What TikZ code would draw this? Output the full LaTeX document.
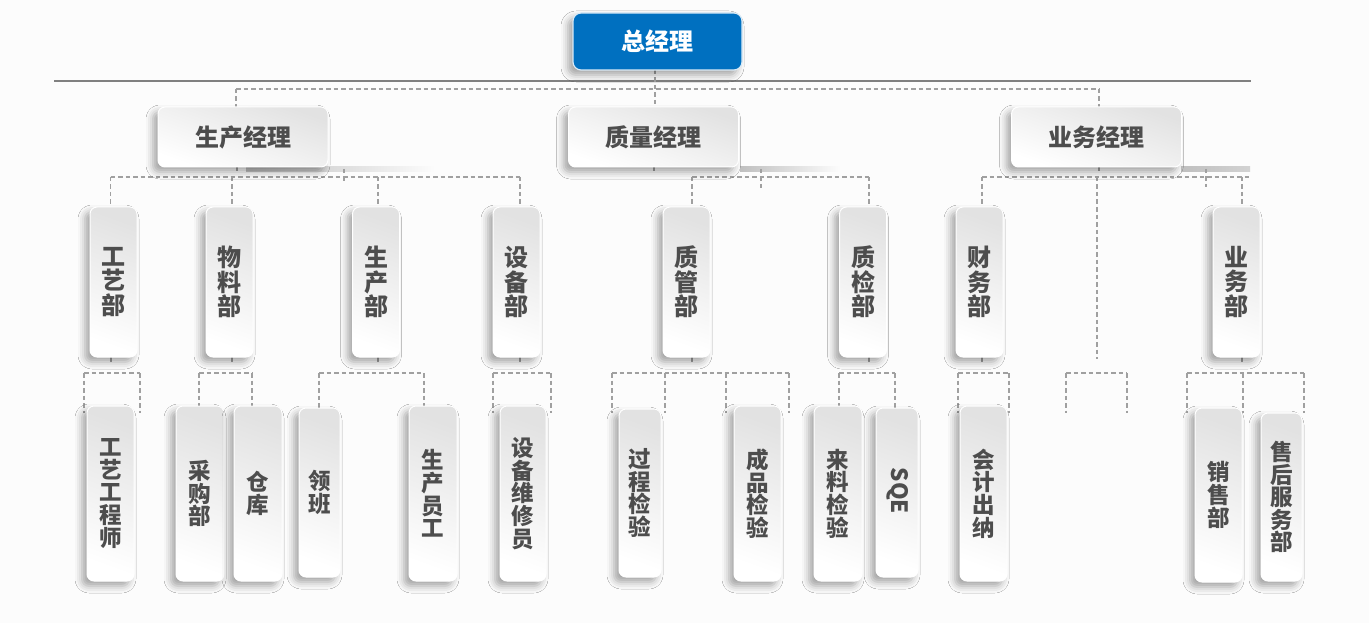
\documentclass[tikz,border=0pt]{standalone}
\usepackage{fontspec}
\setmainfont{Noto Sans CJK SC}
\usetikzlibrary{shadows.blur}
\definecolor{bg}{HTML}{FCFCFC}
\definecolor{blueb}{HTML}{0070C0}
\definecolor{txt}{HTML}{4D4D4D}
\definecolor{dlc}{HTML}{A0A0A0}
\definecolor{boxtop}{HTML}{E2E2E2}
\definecolor{rulec}{HTML}{808080}
\begin{document}
\begin{tikzpicture}[x=1pt,y=-1pt,
  dl/.style={draw=dlc, line width=1.3pt, dash pattern=on 4.5pt off 3pt},
  rulestyle/.style={draw=rulec, line width=1.6pt},
  card/.style={draw=white, line width=1pt, rounded corners=7pt, top color=boxtop, bottom color=white, shading angle=-20,
    inner sep=0pt, text=txt, align=center,
    blur shadow={shadow xshift=-5pt, shadow yshift=-5pt, shadow blur radius=7pt, shadow opacity=35}},
  mgr/.style={card, minimum width=170pt, minimum height=60pt, font=\bfseries\fontsize{24}{24}\selectfont},
  dept/.style={card, minimum width=47pt, minimum height=150pt, font=\bfseries\fontsize{24}{24.4}\selectfont},
  leaf/.style={card, minimum width=47pt, minimum height=175pt, font=\bfseries\fontsize{22.5}{22.6}\selectfont},
  gmstyle/.style={draw=white!85!blueb, line width=1.2pt, rounded corners=8pt, fill=blueb, inner sep=0pt,
    minimum width=169pt, minimum height=57pt, text=white, font=\bfseries\fontsize{24}{24}\selectfont,
    blur shadow={shadow xshift=-5pt, shadow yshift=-5pt, shadow blur radius=7pt, shadow opacity=35}}
]
\fill[bg] (0,0) rectangle (1369,623);
\useasboundingbox (0,0) rectangle (1369,623);

% ---------- rule line ----------
\coordinate (ruleL) at (54,81);
\coordinate (ruleR) at (1251,81);
\draw[rulestyle] (ruleL) -- (ruleR);

% ---------- shadow strips under managers ----------
\shade[left color=gray!50, right color=bg] (246,167) rectangle (435,172);
\shade[left color=gray!50, right color=bg] (740,167) rectangle (840,172);
\shade[left color=gray!50, right color=gray!35] (1181,167) rectangle (1250,172);

% ---------- coordinates of connectors ----------
\coordinate (L1a) at (236,89);
\coordinate (L1m) at (655,89);
\coordinate (L1b) at (1099,89);

\coordinate (P2a) at (110.7,177);
\coordinate (P2b) at (232,177);
\coordinate (P2c) at (378,177);
\coordinate (P2d) at (520,177);
\coordinate (Q2a) at (692,177);
\coordinate (Q2b) at (869,177);
\coordinate (B2a) at (982,177);
\coordinate (B2m) at (1097,177);
\coordinate (B2c) at (1242,177);
\coordinate (B2b) at (1250,177);
\coordinate (B2end) at (1097,359);

% level 3 bus coordinates
\coordinate (g1a) at (84,373);   \coordinate (g1b) at (140,373);
\coordinate (g2a) at (199,373);  \coordinate (g2b) at (252,373);
\coordinate (g3a) at (319,373);  \coordinate (g3b) at (424,373);
\coordinate (g4a) at (493,373);  \coordinate (g4b) at (551,373);
\coordinate (g5a) at (612,373);  \coordinate (g5b) at (665,373);
\coordinate (g5c) at (726,373);  \coordinate (g5d) at (789,373);
\coordinate (g6a) at (839,373);  \coordinate (g6b) at (895,373);
\coordinate (g7a) at (958,373);  \coordinate (g7b) at (1009,373);
\coordinate (g8a) at (1066,373); \coordinate (g8b) at (1127,373);
\coordinate (g9a) at (1187,373); \coordinate (g9b) at (1243,373); \coordinate (g9c) at (1304,373);

% ---------- level 1 connectors ----------
\draw[dl] (L1a) -- (L1b);
\draw[dl] (655,70) -- (655,107);
\draw[dl] (L1a) -- (236,107);
\draw[dl] (L1b) -- (1099,107);

% ---------- level 2 connectors ----------
\draw[dl] (237,167) -- (237,172);
\draw[dl] (344,169) -- (344,184);
\draw[dl] (P2a) -- (P2d);
\foreach \c in {P2a,P2b,P2c,P2d} \draw[dl] (\c) -- ++(0,30);

\draw[dl] (654,167) -- (654,171);
\draw[dl] (761,169) -- (761,188);
\draw[dl] (Q2a) -- (Q2b);
\foreach \c in {Q2a,Q2b} \draw[dl] (\c) -- ++(0,30);

\draw[dl] (1099,167) -- (1099,171);
\draw[dl] (1206,169) -- (1206,187);
\draw[dl] (B2a) -- (B2b);
\foreach \c in {B2a,B2c} \draw[dl] (\c) -- ++(0,30);
\draw[dl] (B2m) -- (B2end);

% ---------- level 3 connectors ----------
\foreach \x in {111,232,378,520,692,869,982,1242} \draw[dl] (\x,357) -- (\x,362);
\foreach \a/\b in {g1a/g1b,g2a/g2b,g3a/g3b,g4a/g4b,g5a/g5d,g6a/g6b,g7a/g7b,g8a/g8b,g9a/g9c}
  \draw[dl] (\a) -- (\b);
\foreach \c in {g1a,g1b,g2a,g2b,g3a,g3b,g4a,g4b,g5a,g5b,g5c,g5d,g6a,g6b,g7a,g7b,g8a,g8b,g9a,g9b,g9c}
  \draw[dl] (\c) -- ++(0,40);

% ---------- nodes ----------
\node[gmstyle] (gm) at (657.5,41.5) {总经理};

\node[mgr] (pm) at (243,137) {生产经理};
\node[mgr] (qm) at (653.5,137) {质量经理};
\node[mgr] (bm) at (1096.5,137) {业务经理};

\node[dept] (d1) at (113.5,282) {工\\艺\\部};
\node[dept] (d2) at (229.5,282) {物\\料\\部};
\node[dept] (d3) at (376,282) {生\\产\\部};
\node[dept] (d4) at (516.5,282) {设\\备\\部};
\node[dept] (d5) at (686.5,282) {质\\管\\部};
\node[dept] (d6) at (863,282) {质\\检\\部};
\node[dept] (d7) at (979.5,282) {财\\务\\部};
\node[dept] (d8) at (1236.5,282) {业\\务\\部};

\node[leaf] (e1) at (110.5,493.5) {工\\艺\\工\\程\\师};
\node[leaf, minimum width=48pt] (e2) at (200,493.5) {采\\购\\部};
\node[leaf, minimum width=48pt] (e3) at (258,493.5) {仓\\库};
\node[leaf, minimum width=41pt, minimum height=169pt] (e4) at (319.5,492.5) {领\\班};
\node[leaf, minimum width=48pt] (e5) at (433,493.5) {生\\产\\员\\工};
\node[leaf, minimum width=46pt] (e6) at (523,493.5) {设\\备\\维\\修\\员};
\node[leaf, minimum width=42pt, minimum height=168pt] (e7) at (640,493) {过\\程\\检\\验};
\node[leaf] (e8) at (757.5,493.5) {成\\品\\检\\验};
\node[leaf, minimum width=48pt] (e9) at (838,493.5) {来\\料\\检\\验};
\node[leaf, minimum width=42pt, minimum height=169pt] (e10) at (897,492.5) {};
\node[text=txt, rotate=-90, font=\bfseries\fontsize{22.5}{22.6}\selectfont] (e10t) at (898,491) {SQE};
\node[leaf] (e11) at (983.5,493.5) {会\\计\\出\\纳};
\node[leaf, minimum height=174pt] (e12) at (1218.5,495) {销\\售\\部};
\node[leaf, minimum width=41pt, minimum height=168pt] (e13) at (1281.5,497) {售\\后\\服\\务\\部};
\end{tikzpicture}
\end{document}
